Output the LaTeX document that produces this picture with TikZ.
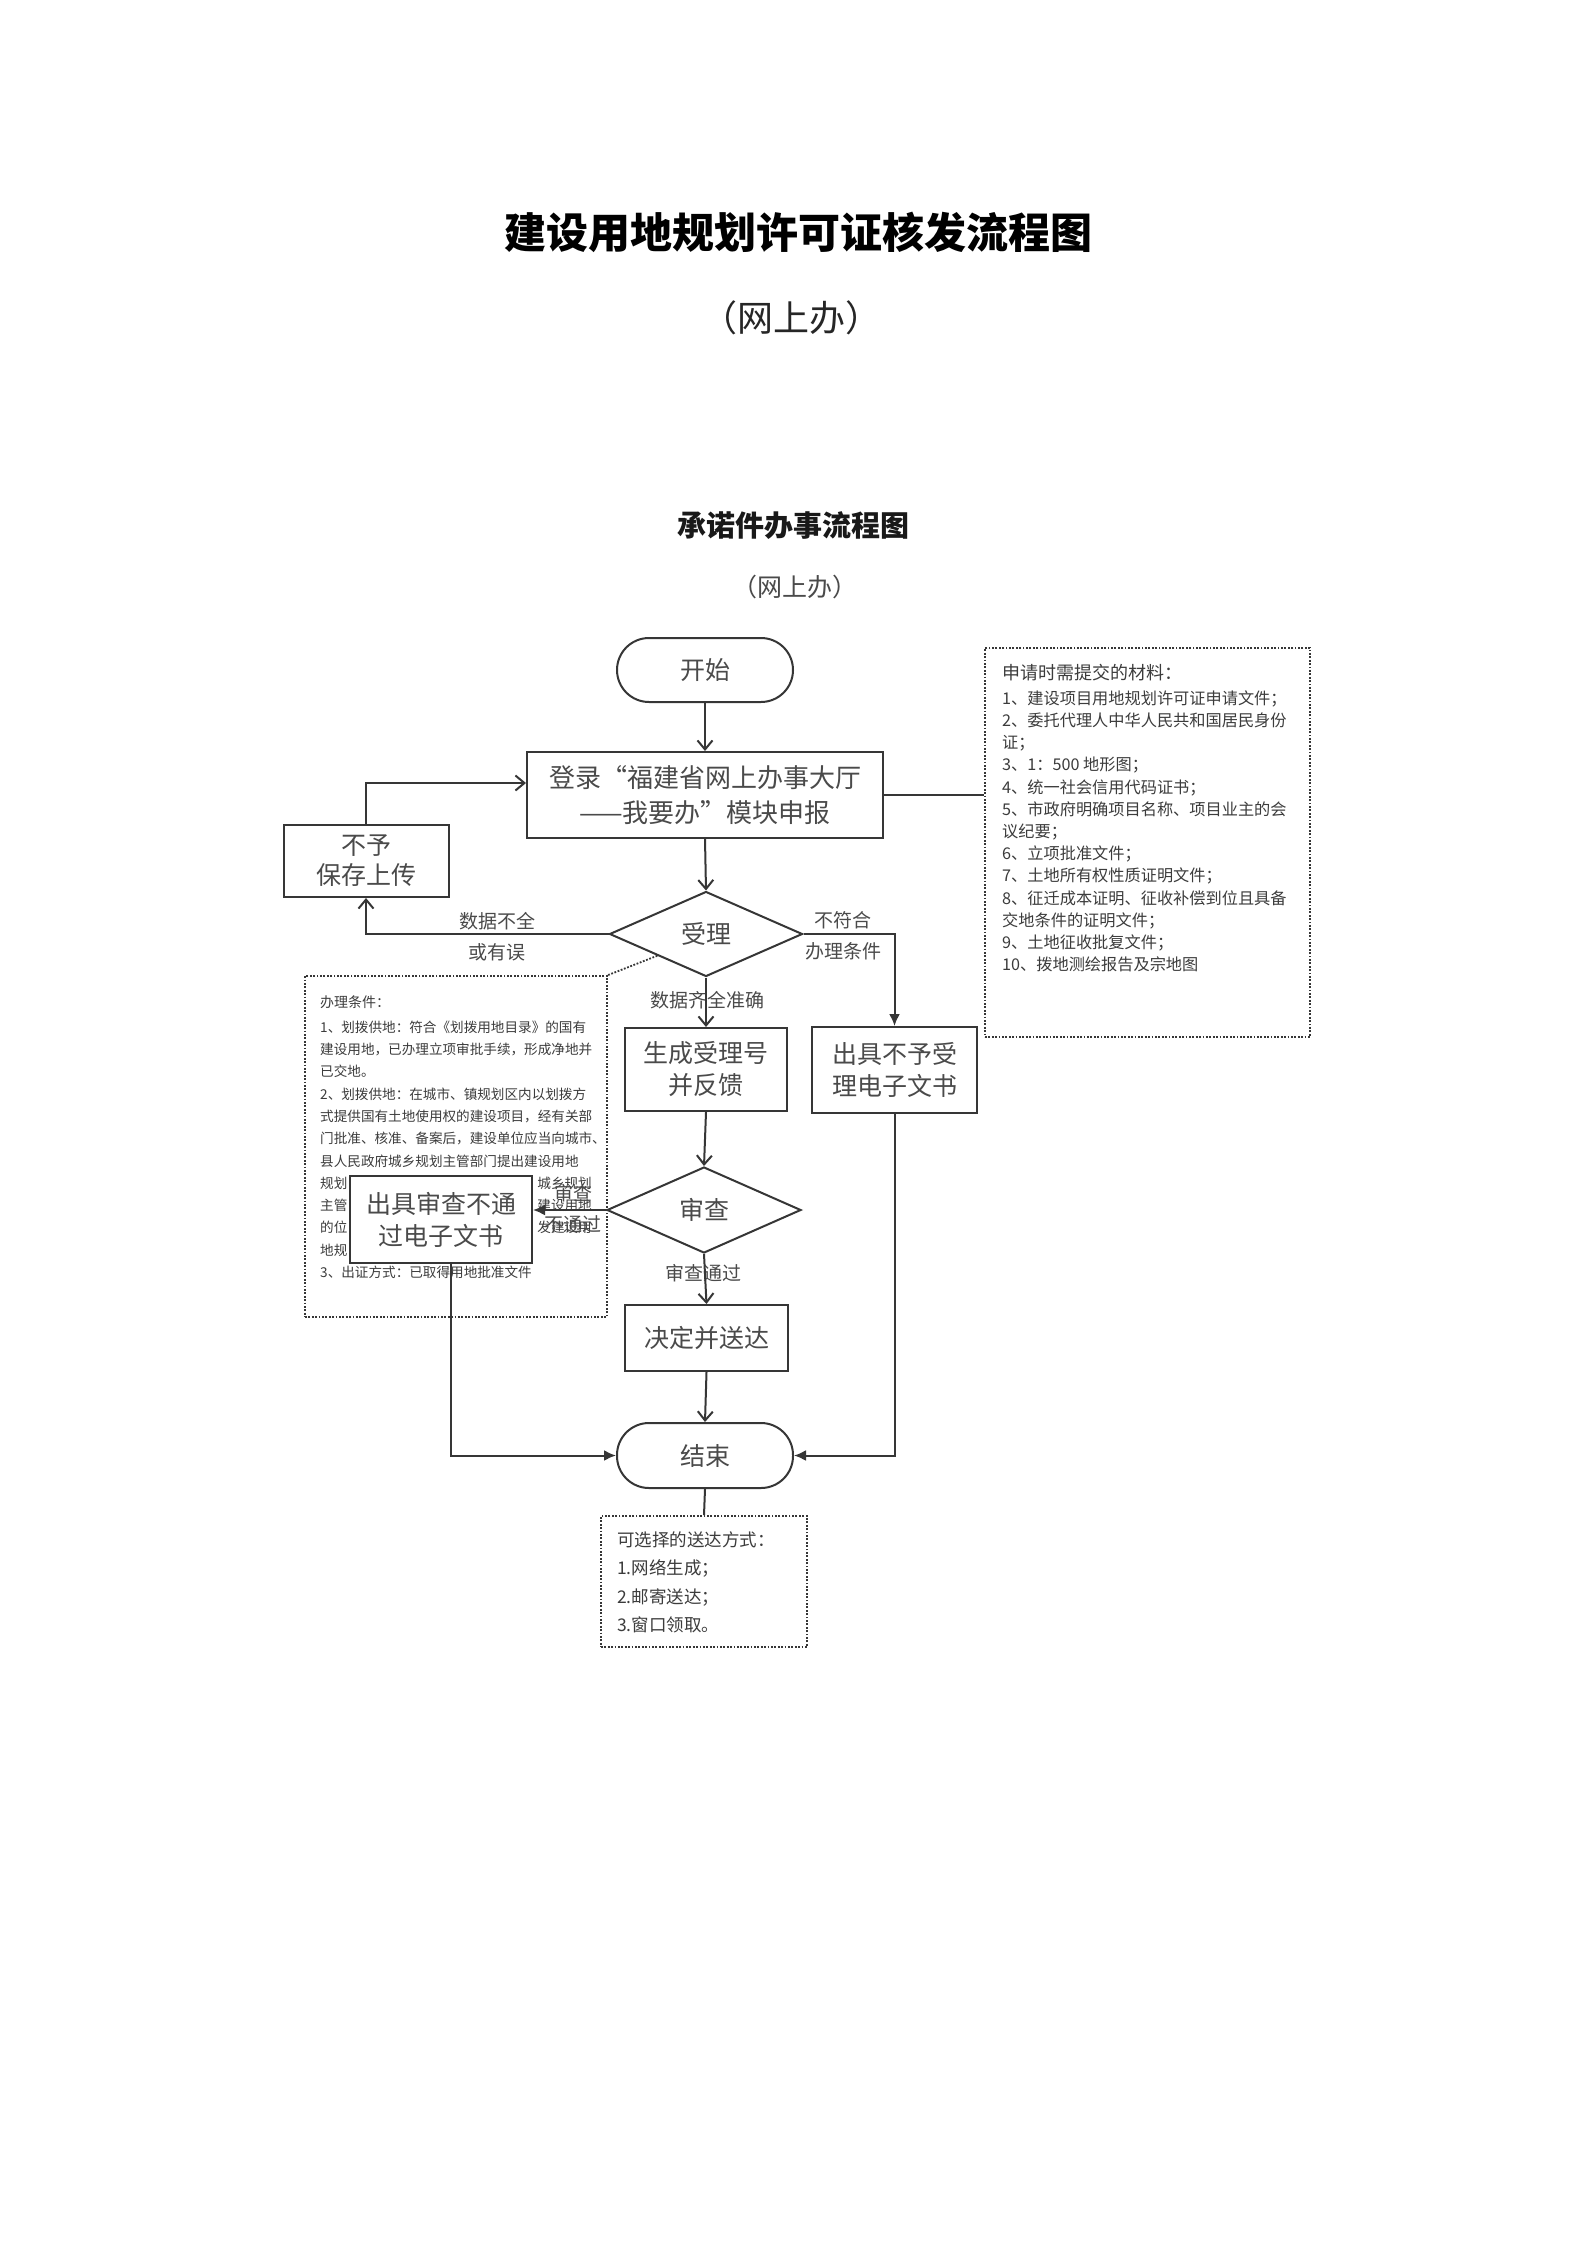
\documentclass[tikz,border=0pt]{standalone}
\usepackage{fontspec}
\setmainfont{Noto Sans CJK SC}
\usetikzlibrary{arrows.meta,shapes.geometric}
\definecolor{ln}{HTML}{363636}
\definecolor{tx}{HTML}{4A4A4A}
\definecolor{nt}{HTML}{3C3C3C}
\tikzset{
 proc/.style={draw=ln, line width=2pt, inner sep=0pt, text=tx, align=center, font=\fontsize{25}{32}\selectfont},
 term/.style={proc, rounded corners=32pt, minimum width=176pt, minimum height=64pt},
 dec/.style={proc, diamond, minimum width=194pt, minimum height=86pt},
 lbl/.style={inner sep=0pt, text=tx, align=center, font=\fontsize{19}{31}\selectfont},
 note/.style={draw=ln, line width=1.8pt, dash pattern=on 1.8pt off 1.6pt, inner sep=0pt},
 notetxt/.style={inner sep=0pt, text=nt, anchor=base west},
 condtxt/.style={notetxt, font=\fontsize{13.6}{13.6}\selectfont},
 conn/.style={draw=ln, line width=2pt},
 openarr/.style={conn, -{Straight Barb[length=9pt,width=15pt,line width=2pt]}},
 fillarr/.style={conn, -{Latex[length=12pt,width=11pt]}},
}
\begin{document}
\begin{tikzpicture}[x=1pt,y=-1pt]
\useasboundingbox[fill=white] (0,0) rectangle (1587,2245);
% titles
\node[inner sep=0pt, font=\fontsize{42}{42}\selectfont\bfseries] (title) at (798,232) {建设用地规划许可证核发流程图};
\node[inner sep=0pt, text=black!85, font=\fontsize{36}{36}\selectfont] (subtitle) at (791,318) {（网上办）};
\node[inner sep=0pt, text=black!90, font=\fontsize{29}{29}\selectfont\bfseries] (title2) at (793,526) {承诺件办事流程图};
\node[inner sep=0pt, text=tx, font=\fontsize{25}{25}\selectfont] (subtitle2) at (795,587) {（网上办）};

% materials note
\node[note, minimum width=325pt, minimum height=389pt] (mat) at (1147.5,842.5) {};
\node[notetxt, font=\fontsize{18}{18}\selectfont] (math) at (1002,679) {申请时需提交的材料：};
\foreach \t [count=\i from 0] in {1、建设项目用地规划许可证申请文件；,2、委托代理人中华人民共和国居民身份,证；,3、1：500 地形图；,4、统一社会信用代码证书；,5、市政府明确项目名称、项目业主的会,议纪要；,6、立项批准文件；,7、土地所有权性质证明文件；,8、征迁成本证明、征收补偿到位且具备,交地条件的证明文件；,9、土地征收批复文件；,10、拨地测绘报告及宗地图}
  \node[notetxt, font=\fontsize{16.2}{16.2}\selectfont] (mat\i) at (1002,704.2+\i*22.2) {\t};

% conditions note
\node[note, minimum width=302pt, minimum height=341pt] (cond) at (456,1146.5) {};
\node[notetxt, font=\fontsize{14}{14}\selectfont] (condh) at (320,1007.3) {办理条件：};
\foreach \t [count=\i from 0] in {1、划拨供地：符合《划拨用地目录》的国有,建设用地，已办理立项审批手续，形成净地并,已交地。,2、划拨供地：在城市、镇规划区内以划拨方,式提供国有土地使用权的建设项目，经有关部,门批准、核准、备案后，建设单位应当向城市、,县人民政府城乡规划主管部门提出建设用地}
  \node[condtxt] (cond\i) at (320,1032.2+\i*22.3) {\t};
% lines partly hidden behind the "fail" box
\node[condtxt] (cond7a) at (320,1188.3) {规划};
\node[condtxt, anchor=base east] (cond7b) at (592,1188.3) {城乡规划};
\node[condtxt] (cond8a) at (320,1210.6) {主管};
\node[condtxt, anchor=base east] (cond8b) at (592,1210.6) {建设用地};
\node[condtxt] (cond9a) at (320,1232.9) {的位};
\node[condtxt, anchor=base east] (cond9b) at (592,1232.9) {发建设用};
\node[condtxt] (cond10a) at (320,1255.2) {地规};
\node[condtxt] (cond11) at (320,1277.5) {3、出证方式：已取得用地批准文件};

% delivery note
\node[note, minimum width=206pt, minimum height=131pt] (deliv) at (704,1581.5) {};
\node[notetxt, font=\fontsize{17.5}{17.5}\selectfont] (delivh) at (617,1546.7) {可选择的送达方式：};
\foreach \t [count=\i from 0] in {1.网络生成；,2.邮寄送达；,3.窗口领取。}
  \node[notetxt, font=\fontsize{17.5}{17.5}\selectfont] (deliv\i) at (617,1574.6+\i*28.5) {\t};

% flow nodes
\node[term] (start) at (705,670) {开始};
\node[proc, minimum width=356pt, minimum height=86pt, font=\fontsize{26}{35}\selectfont] (login) at (705,795) {登录“福建省网上办事大厅\\——我要办”模块申报};
\node[proc, minimum width=165pt, minimum height=72pt, font=\fontsize{25}{30}\selectfont] (deny) at (366,861) {不予\\保存上传};
\node[dec, minimum width=193pt, minimum height=85pt] (accept) at (706,934) {受理};
\node[proc, minimum width=162pt, minimum height=83pt] (gen) at (706,1069.5) {生成受理号\\并反馈};
\node[proc, minimum width=165pt, minimum height=86pt] (rej) at (894.5,1070) {出具不予受\\理电子文书};
\node[dec] (review) at (704,1210) {审查};
\node[proc, fill=white, minimum width=182pt, minimum height=87pt] (fail) at (441,1219.5) {出具审查不通\\过电子文书};
\node[proc, minimum width=163pt, minimum height=66pt] (decide) at (706.5,1338) {决定并送达};
\node[term, minimum height=65pt] (end) at (705,1455.5) {结束};

% connector labels
\node[lbl] (l1) at (497,937) {数据不全\\或有误};
\node[lbl] (l2) at (843,936) {不符合\\办理条件};
\node[lbl] (l3) at (707,1000) {数据齐全准确};
\node[lbl] (l4) at (573,1209) {审查\\不通过};
\node[lbl] (l5) at (703,1273) {审查通过};

% connectors
\draw[openarr] (start.south) -- (login.north);
\draw[openarr] (login.south) -- (accept.north);
\draw[openarr] (accept.west) -| (deny.south);
\draw[openarr] (deny.north) |- ([yshift=12pt]login.west);
\draw[conn, line width=1.5pt] (login.east) -- (login.east -| mat.west);
\draw[fillarr] (accept.east) -| (rej.north);
\draw[openarr] (accept.south) -- (gen.north);
\draw[conn, line width=1.8pt, dash pattern=on 1.8pt off 1.6pt] (accept.south west) -- (cond.north east);
\draw[openarr] (gen.south) -- (review.north);
\draw[fillarr] (review.west) -- (review.west -| fail.east);
\draw[openarr] (review.south) -- (decide.north);
\draw[openarr] (decide.south) -- (end.north);
\draw[fillarr] ([xshift=10pt]fail.south) |- (end.west);
\draw[fillarr] (rej.south) |- (end.east);
\draw[conn] (end.south) -- (deliv.north);
\end{tikzpicture}
\end{document}
